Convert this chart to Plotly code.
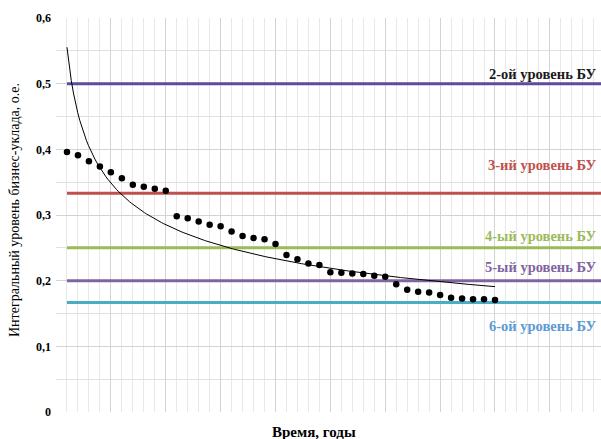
import numpy as np
import plotly.graph_objects as go

# Data
years = list(range(1, 41))
level = [0.396, 0.391, 0.382, 0.374, 0.365, 0.356, 0.346, 0.343, 0.340, 0.337,
         0.298, 0.295, 0.290, 0.285, 0.283, 0.275, 0.268, 0.265, 0.263, 0.256,
         0.239, 0.2325, 0.226, 0.224, 0.213, 0.212, 0.211, 0.210, 0.2075, 0.206,
         0.1945, 0.186, 0.183, 0.182, 0.178, 0.174, 0.173, 0.1716, 0.1716, 0.1705]

bu_names = ["2-ой уровень БУ", "3-ий уровень БУ", "4-ый уровень БУ", "5-ый уровень БУ", "6-ой уровень БУ"]
bu_values = [0.5, 0.3333, 0.25, 0.2, 0.1667]
bu_label_y = [0.515, 0.376, 0.268, 0.221, 0.131]
bu_colors = ["#5F4B9B", "#C0504D", "#9BBB59", "#8064A2", "#4BACC6"]
bu_text_colors = ["#1A1A1A", "#C0504D", "#9BBB59", "#8064A2", "#5B9BD5"]

X_MAX = 49.66
SERIF = "Times New Roman, Liberation Serif, DejaVu Serif, serif"

# Power trendline (log-log least squares, as Excel does)
lx = np.log(np.array(years, dtype=float))
ly = np.log(np.array(level))
b, lna = np.polyfit(lx, ly, 1)
tx = np.linspace(1, 40, 200)
ty = np.exp(lna) * tx ** b

fig = go.Figure()

for v, c in zip(bu_values, bu_colors):
    fig.add_trace(go.Scatter(x=[1, X_MAX], y=[v, v], mode="lines",
                             line=dict(color=c, width=3), hoverinfo="skip", showlegend=False))

fig.add_trace(go.Scatter(x=tx, y=ty, mode="lines", line=dict(color="black", width=1),
                         showlegend=False))
fig.add_trace(go.Scatter(x=years, y=level, mode="markers",
                         marker=dict(color="black", size=6.5), showlegend=False))

for name, yv, c in zip(bu_names, bu_label_y, bu_text_colors):
    fig.add_annotation(x=X_MAX - 0.15, y=yv, text=f"<b>{name}</b>", showarrow=False,
                       xanchor="right", yanchor="middle",
                       font=dict(family=SERIF, size=14.5, color=c))

# Axis titles (plot area: x 56..601, y 18..412 in pixels)
fig.add_annotation(xref="paper", yref="paper", x=(314 - 56) / 545, y=(412 - 432) / 394,
                   text="<b>Время, годы</b>", showarrow=False, xanchor="center", yanchor="middle",
                   font=dict(family=SERIF, size=15, color="black"))
fig.add_annotation(xref="paper", yref="paper", x=(14 - 56) / 545, y=(412 - 210) / 394,
                   text="Интегральный уровень бизнес-уклада, о.е.", textangle=-90,
                   showarrow=False, xanchor="center", yanchor="middle",
                   font=dict(family=SERIF, size=14, color="black"))

fig.update_layout(
    width=601, height=439,
    margin=dict(l=56, r=0, t=18, b=27, autoexpand=False),
    paper_bgcolor="white", plot_bgcolor="white",
    separators=", ",
    font=dict(family=SERIF, color="black"),
    xaxis=dict(range=[0, X_MAX], dtick=5, tick0=0, showticklabels=False, automargin=False,
               showgrid=True, gridcolor="#D3D3D3", gridwidth=1, zeroline=False,
               minor=dict(dtick=1, showgrid=True, gridcolor="#E8E8E8", gridwidth=1)),
    yaxis=dict(range=[0, 0.6], dtick=0.1, tick0=0, tickformat=".1~f", automargin=False,
               showgrid=True, gridcolor="#D3D3D3", gridwidth=1, zeroline=False,
               tickfont=dict(family=SERIF, size=12), ticklabelstandoff=4,
               minor=dict(dtick=0.05, showgrid=True, gridcolor="#E0E0E0", gridwidth=1)),
)
fig.update_yaxes(tickprefix="<b>", ticksuffix="</b>")
fig.write_html("out.html", config={"displayModeBar": False},
               post_script="document.body.style.margin='0';document.body.style.overflow='hidden';")
